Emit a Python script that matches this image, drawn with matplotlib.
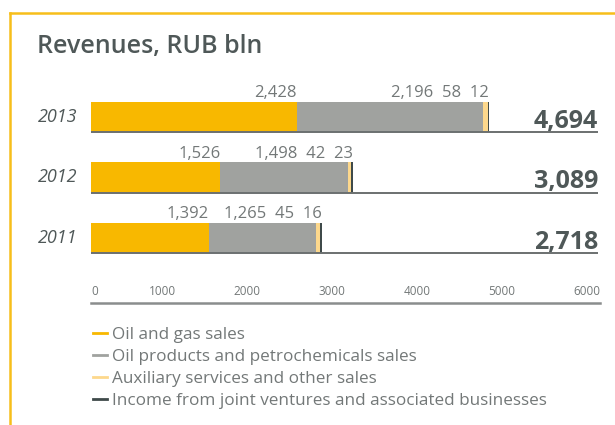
import matplotlib
matplotlib.use("Agg")
import matplotlib.pyplot as plt
from matplotlib.lines import Line2D
import matplotlib.transforms as mtransforms
import numpy as np

# ---- data ----
years = ["2013", "2012", "2011"]
oil_gas = [2428, 1526, 1392]
oil_products = [2196, 1498, 1265]
auxiliary = [58, 42, 45]
joint_ventures = [12, 23, 16]
totals = ["4,694", "3,089", "2,718"]
series_names = ["Oil and gas sales",
                "Oil products and petrochemicals sales",
                "Auxiliary services and other sales",
                "Income from joint ventures and associated businesses"]
xticks = [0, 1000, 2000, 3000, 4000, 5000, 6000]

# ---- style ----
C_OIL = "#f8b800"
C_PROD = "#a0a29f"
C_AUX = "#fdd88c"
C_JV = "#3f4a4a"
C_TEXT = "#4f5858"
C_LIGHT = "#737878"
C_BORDER = "#f7be1a"
FONT = "Open Sans"

W, H = 615, 425
fig = plt.figure(figsize=(W / 100, H / 100), dpi=100)

# yellow frame (top and left)
fig.add_artist(Line2D([10 / W, 1.0], [1 - 13 / H, 1 - 13 / H], color=C_BORDER, lw=1.8,
                      transform=fig.transFigure))
fig.add_artist(Line2D([10 / W, 10 / W], [0, 1 - 13 / H], color=C_BORDER, lw=1.8,
                      transform=fig.transFigure))

fig.text(37 / W, 1 - 46 / H, "Revenues, RUB bln", fontsize=18, fontweight="semibold",
         color=C_TEXT, family=FONT, va="center", ha="left")

# main axes: x from 91 to 600 px, y from 80 to 303 px
ax_left, ax_right = 91, 600
ax_top, ax_bot = 80, 303
ax = fig.add_axes([ax_left / W, 1 - ax_bot / H, (ax_right - ax_left) / W, (ax_bot - ax_top) / H])

ypos = np.arange(len(years))
bh = 0.5
ax.set_xlim(0, 6000)
ax.set_ylim(2 + 65 / 60, -37 / 60)

left = np.zeros(len(years))
for vals, col in [(oil_gas, C_OIL), (oil_products, C_PROD), (auxiliary, C_AUX), (joint_ventures, C_JV)]:
    ax.barh(ypos, vals, left=left, height=bh, color=col, edgecolor="none")
    left = left + np.array(vals)

fmt = lambda v: f"{v:,}"
trans = mtransforms.blended_transform_factory(fig.transFigure, ax.transData)
for i in range(len(years)):
    # underline
    ax.plot([0, 5975], [ypos[i] + bh / 2, ypos[i] + bh / 2], color="#6b7070", lw=1.4,
            solid_capstyle="butt", zorder=3)
    # first label right-aligned at oil & gas segment end
    ax.annotate(fmt(oil_gas[i]), (oil_gas[i], ypos[i] - bh / 2), xytext=(0, 3.5),
                textcoords="offset points", ha="right", va="baseline", fontsize=12,
                color=C_LIGHT, family=FONT)
    # other labels right-aligned at bar end
    rest = "  ".join([fmt(oil_products[i]), fmt(auxiliary[i]), fmt(joint_ventures[i])])
    ax.annotate(rest, (left[i], ypos[i] - bh / 2), xytext=(0, 3.5),
                textcoords="offset points", ha="right", va="baseline", fontsize=12,
                color=C_LIGHT, family=FONT)
    # totals
    ax.annotate(totals[i], (5975, ypos[i] + bh / 2), xytext=(0, 3),
                textcoords="offset points", ha="right", va="baseline", fontsize=18,
                color=C_TEXT, family=FONT, fontweight="bold")
    # year labels
    ax.text(38 / W, ypos[i], years[i], transform=trans, ha="left", va="center",
            fontsize=13, style="italic", color=C_TEXT, family=FONT)

for s in ["top", "left", "right"]:
    ax.spines[s].set_visible(False)
ax.spines["bottom"].set_color("#8a8d8d")
ax.spines["bottom"].set_linewidth(1.8)
ax.set_yticks([])
ax.set_xticks(xticks)
ax.set_xticklabels([str(t) for t in xticks])
ax.tick_params(axis="x", length=0, pad=-13, labelsize=8.5, labelcolor=C_LIGHT)
for lab in ax.get_xticklabels():
    lab.set_family(FONT)
    lab.set_ha("right")
ax.get_xticklabels()[0].set_ha("left")

# legend
handles = [Line2D([], [], color=c, lw=2.0) for c in [C_OIL, C_PROD, C_AUX, C_JV]]
leg = fig.legend(handles, series_names, loc="upper left",
                 bbox_to_anchor=(86 / W, 1 - 320 / H), frameon=False,
                 handlelength=0.8, handletextpad=0.33, labelspacing=0.36,
                 prop={"family": FONT, "size": 12.3}, borderaxespad=0)
for t in leg.get_texts():
    t.set_color(C_LIGHT)

fig.savefig("out.png", dpi=100)
